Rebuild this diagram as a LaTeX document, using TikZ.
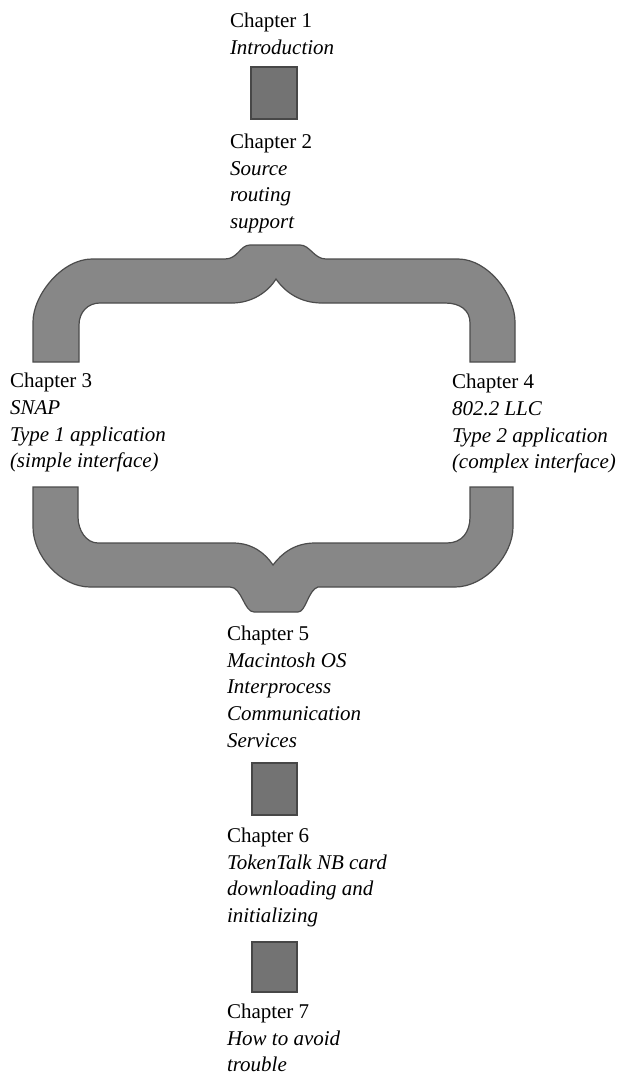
\documentclass[tikz,border=0pt]{standalone}
\usepackage{fontspec}
\setmainfont{Liberation Serif}
\begin{document}
\begin{tikzpicture}[x=1pt,y=-1pt,
  lbl/.style={anchor=north west, inner sep=0pt, outer sep=0pt, align=left,
              font=\fontsize{21}{26.8}\selectfont},
  tone/.style={fill=black!47, draw=black!70, line width=1.2pt},
  linkbox/.style={fill=black!55, draw=black!72, line width=1.2pt, inner sep=0pt, outer sep=0pt}]
\useasboundingbox (0,0) rectangle (626,1081);

% chapter texts
\node[lbl] (c1) at (230,12.7) {Chapter 1\\\textit{Introduction}};
\node[lbl] (c2) at (230,133.7) {Chapter 2\\\textit{Source}\\\textit{routing}\\\textit{support}};
\node[lbl] (c3) at (10,373) {Chapter 3\\\textit{SNAP}\\\textit{Type 1 application}\\\textit{(simple interface)}};
\node[lbl] (c4) at (452,374) {Chapter 4\\\textit{802.2 LLC}\\\textit{Type 2 application}\\\textit{(complex interface)}};
\node[lbl] (c5) at (227,625.7) {Chapter 5\\\textit{Macintosh OS}\\\textit{Interprocess}\\\textit{Communication}\\\textit{Services}};
\node[lbl] (c6) at (227,827.7) {Chapter 6\\\textit{TokenTalk NB card}\\\textit{downloading and}\\\textit{initializing}};
\node[lbl] (c7) at (227,1003.7) {Chapter 7\\\textit{How to avoid}\\\textit{trouble}};

% linking squares
\node[linkbox, minimum width=46pt, minimum height=52pt] (s1) at (274,93) {};
\node[linkbox, minimum width=45pt, minimum height=52pt] (s2) at (274.5,789) {};
\node[linkbox, minimum width=45pt, minimum height=50pt] (s3) at (274.5,967) {};

% upper brace (chapter 2 -> chapters 3 and 4)
\path[tone] (33,362) -- (33,322) .. controls (33,295) and (62,259) .. (92,259)
  -- (225,259) .. controls (238,259) and (240,245) .. (250,245)
  -- (300,245) .. controls (310,245) and (314,259) .. (326,259)
  -- (458,259) .. controls (488,259) and (515,295) .. (515,322)
  -- (515,362) -- (470,362) -- (470,323) .. controls (470,310) and (460,303) .. (445,303)
  -- (322,303) .. controls (300,303) and (285,292) .. (276,279)
  .. controls (268,292) and (252,303) .. (232,303)
  -- (100,303) .. controls (88,303) and (79,312) .. (79,325) -- (79,362) -- cycle;

% lower brace (chapters 3 and 4 -> chapter 5)
\path[tone] (33,487) -- (33,527) .. controls (33,555) and (60,587) .. (90,587)
  -- (230,587) .. controls (242,587) and (244,612) .. (254,612)
  -- (298,612) .. controls (306,612) and (308,590) .. (318,587)
  -- (455,587) .. controls (485,587) and (513,555) .. (513,527)
  -- (513,487) -- (470,487) -- (470,517) .. controls (470,532) and (462,543) .. (447,543)
  -- (315,543) .. controls (295,543) and (282,553) .. (273,565)
  .. controls (265,553) and (252,543) .. (233,543)
  -- (98,543) .. controls (86,543) and (78,530) .. (78,517) -- (78,487) -- cycle;
\end{tikzpicture}
\end{document}
